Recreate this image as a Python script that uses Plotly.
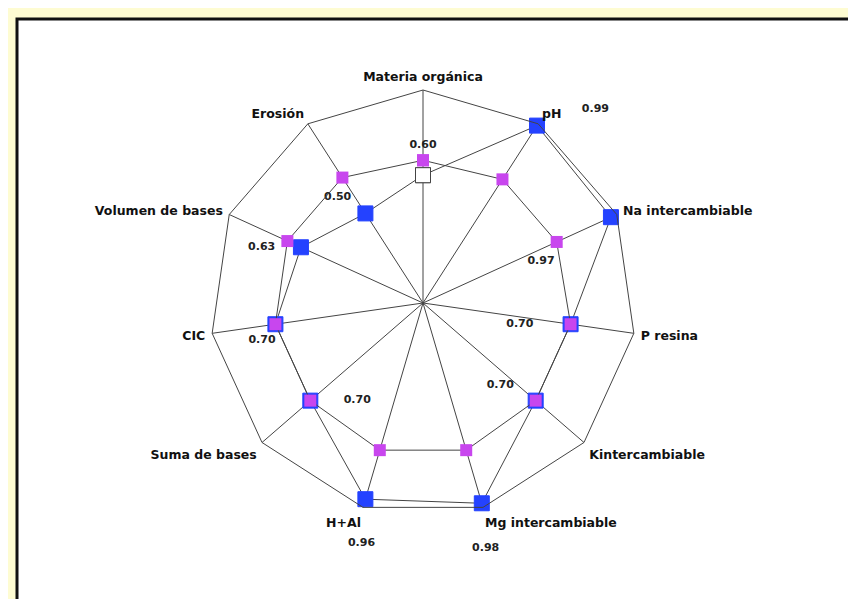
import plotly.graph_objects as go

categories = ["Materia orgánica", "pH", "Na intercambiable", "P resina",
              "Kintercambiable", "Mg intercambiable", "H+Al", "Suma de bases",
              "CIC", "Volumen de bases", "Erosión"]
indicator_values = [0.60, 0.99, 0.97, 0.70, 0.70, 0.98, 0.96, 0.70, 0.70, 0.63, 0.50]
threshold_values = [0.67, 0.69, 0.69, 0.70, 0.70, 0.72, 0.72, 0.70, 0.70, 0.70, 0.70]
value_labels = ["0.60", "0.99", "0.97", "0.70", "0.70", "0.98", "0.96", "0.70", "0.70", "0.63", "0.50"]

BLUE = "#2442ff"
MAGENTA = "#c846ee"
LINE = "#444444"
FONT = "DejaVu Sans"
NB = "\u00a0"

W, H = 856, 599
cx, cy, R = 415, 295, 213   # domain centre (compensates the polygon fit offset)

blue_fill = ["#ffffff"] + [BLUE] * (len(categories) - 1)
blue_edge = [LINE] + [BLUE] * (len(categories) - 1)
text_pos = ["top center", "top right", "bottom left", "middle left", "top left",
            "bottom center", "bottom center", "middle right", "bottom center",
            "middle left", "top left"]
# label placement: (lines before, lines after, pad left, pad right)
label_pad = [(0, 1, 0, 0), (0, 0, 9, 0), (2, 0, 0, 12), (0, 0, 0, 7), (0, 0, 0, 3),
             (2, 0, 2, 0), (2, 0, 0, 2), (0, 0, 6, 0), (0, 0, 0, 7),
             (0, 0, 0, 4), (0, 0, 0, 1)]
label_text = []
for lab, (b, a, pl, pr) in zip(value_labels, label_pad):
    label_text.append((NB + "<br>") * b + NB * pl + lab + NB * pr + ("<br>" + NB) * a)

def closed(a):
    return list(a) + [a[0]]

fig = go.Figure()
fig.add_trace(go.Scatterpolar(
    r=closed(indicator_values), theta=closed(categories),
    mode="lines+markers+text",
    line=dict(color=LINE, width=1),
    marker=dict(symbol="square", size=15, color=closed(blue_fill),
                line=dict(color=closed(blue_edge), width=1)),
    text=label_text + [""], textposition=closed(text_pos),
    textfont=dict(family=FONT, size=11, color="#222222", weight="bold"),
    cliponaxis=False, hoverinfo="skip",
))
fig.add_trace(go.Scatterpolar(
    r=closed(threshold_values), theta=closed(categories),
    mode="lines+markers",
    line=dict(color=LINE, width=1),
    marker=dict(symbol="square", size=12, color=MAGENTA, line=dict(width=0)),
    cliponaxis=False, hoverinfo="skip",
))

fig.update_layout(
    width=W, height=H,
    margin=dict(l=0, r=0, t=0, b=0),
    paper_bgcolor="#fefcd2",
    plot_bgcolor="rgba(0,0,0,0)",
    showlegend=False,
    polar=dict(
        domain=dict(x=[(cx - R) / W, (cx + R) / W],
                    y=[(H - cy - R) / H, (H - cy + R) / H]),
        bgcolor="rgba(0,0,0,0)",
        gridshape="linear",
        radialaxis=dict(range=[0, 1], showgrid=False, showline=False,
                        showticklabels=False, ticks=""),
        angularaxis=dict(rotation=90, direction="clockwise",
                         showline=True, linecolor=LINE, linewidth=1,
                         showgrid=True, gridcolor=LINE, gridwidth=1,
                         ticks="outside", ticklen=4, tickcolor="rgba(0,0,0,0)",
                         tickfont=dict(family=FONT, size=12.5, color="#111111",
                                       weight="bold")),
    ),
    shapes=[dict(type="rect", xref="paper", yref="paper",
                 x0=9 / W, x1=1.05, y0=-0.05, y1=(H - 11) / H,
                 fillcolor="white", line=dict(color="#111111", width=3),
                 layer="below")],
)

fig.write_html("out.html")
